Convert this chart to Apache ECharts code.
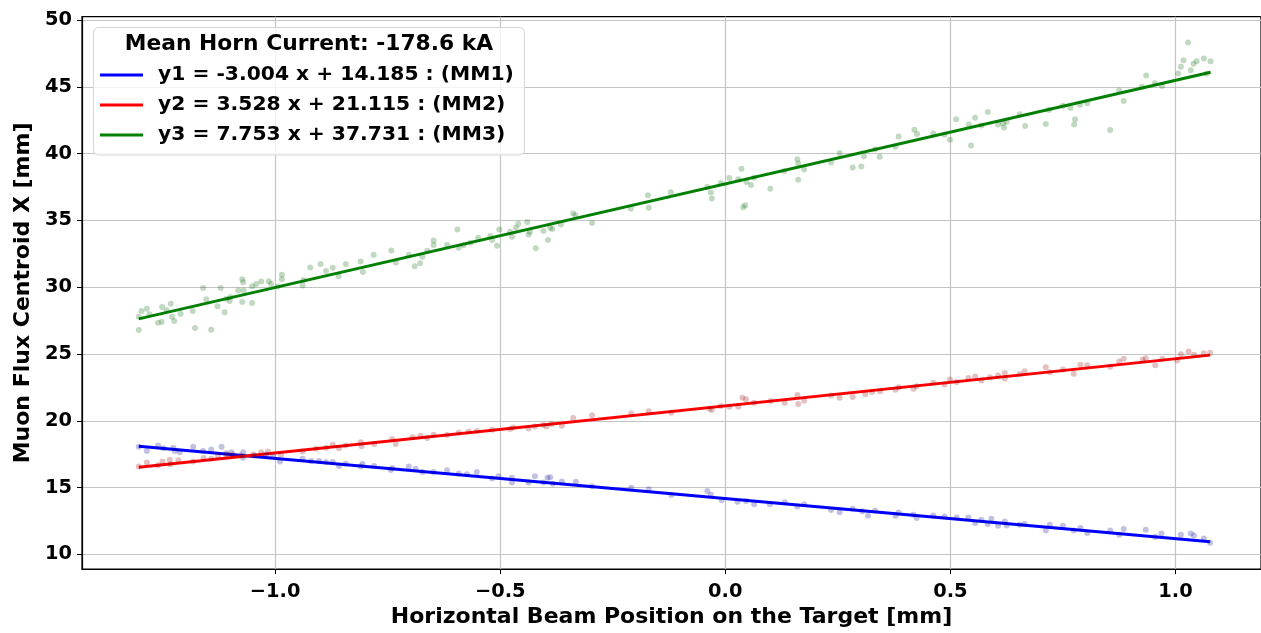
<!DOCTYPE html>
<html>
<head>
<meta charset="utf-8">
<title>Muon Flux Centroid vs Beam Position</title>
<script src="https://cdn.jsdelivr.net/npm/echarts@6/dist/echarts.min.js"></script>
<style>
  html, body { margin: 0; padding: 0; background: #ffffff; }
  #chart { width: 1261px; height: 633px; }
</style>
</head>
<body>
<div id="chart"></div>
<script>
// Horizontal beam position on target [mm] and muon-monitor centroid X [mm], one pair of arrays per monitor
const mm1Pos = [-1.303,-1.285,-1.260,-1.248,-1.226,-1.223,-1.212,-1.182,-1.160,-1.142,-1.119,-1.108,-1.097,-1.071,-1.071,-1.046,-1.020,-1.005,-0.989,-0.939,-0.920,-0.902,-0.887,-0.872,-0.858,-0.843,-0.810,-0.806,-0.780,-0.743,-0.740,-0.703,-0.688,-0.673,-0.648,-0.618,-0.592,-0.574,-0.552,-0.518,-0.504,-0.474,-0.474,-0.437,-0.423,-0.404,-0.395,-0.389,-0.383,-0.363,-0.332,-0.296,-0.209,-0.170,-0.120,-0.040,-0.032,-0.008,0.027,0.046,0.064,0.099,0.132,0.160,0.175,0.235,0.254,0.283,0.304,0.317,0.333,0.378,0.385,0.418,0.425,0.462,0.487,0.514,0.540,0.555,0.569,0.583,0.591,0.606,0.621,0.625,0.654,0.665,0.712,0.721,0.750,0.774,0.789,0.804,0.855,0.875,0.885,0.934,0.955,0.969,1.012,1.034,1.041,1.063,1.077];
const mm1Centroid = [18.05,17.73,18.15,17.95,17.98,17.73,17.65,18.05,17.73,17.85,18.05,17.58,17.65,17.65,17.24,17.41,17.41,17.33,16.96,17.16,16.99,16.99,16.91,16.91,16.61,16.79,16.57,16.76,16.61,16.32,16.47,16.57,16.42,16.17,16.17,16.30,16.05,16.00,16.17,15.68,15.85,15.39,15.73,15.39,15.85,15.39,15.73,15.78,15.28,15.46,15.43,15.11,14.99,14.87,14.44,14.74,14.47,14.07,13.95,14.00,13.76,13.76,13.90,13.58,13.76,13.33,13.16,13.41,13.23,12.89,13.26,12.89,13.13,12.96,12.72,12.91,12.84,12.76,12.76,12.35,12.59,12.27,12.67,12.15,12.47,12.17,12.22,12.27,11.78,12.22,12.15,11.78,11.98,11.61,11.78,11.48,11.90,11.85,11.31,11.56,11.48,11.56,11.41,11.19,10.87];

const mm2Pos = [-1.303,-1.285,-1.260,-1.250,-1.234,-1.232,-1.215,-1.182,-1.159,-1.142,-1.127,-1.108,-1.094,-1.075,-1.049,-1.031,-1.016,-0.987,-0.939,-0.909,-0.887,-0.872,-0.858,-0.843,-0.810,-0.808,-0.780,-0.740,-0.732,-0.695,-0.677,-0.662,-0.648,-0.618,-0.592,-0.570,-0.552,-0.518,-0.478,-0.471,-0.437,-0.423,-0.404,-0.397,-0.386,-0.363,-0.338,-0.296,-0.209,-0.170,-0.120,-0.035,-0.030,-0.010,0.009,0.029,0.038,0.046,0.064,0.101,0.132,0.160,0.162,0.175,0.235,0.254,0.283,0.311,0.326,0.344,0.378,0.385,0.418,0.425,0.462,0.487,0.499,0.514,0.540,0.555,0.569,0.588,0.606,0.621,0.621,0.654,0.665,0.712,0.721,0.750,0.774,0.789,0.804,0.855,0.875,0.885,0.927,0.934,0.955,0.971,1.004,1.012,1.029,1.041,1.063,1.077];
const mm2Centroid = [16.57,16.87,16.67,16.96,17.09,16.74,17.04,16.96,17.21,17.16,17.41,17.46,17.46,17.41,17.48,17.65,17.70,17.46,17.70,17.90,17.98,18.20,17.95,18.15,18.39,18.10,18.27,18.64,18.27,18.76,18.89,18.72,18.96,18.94,19.13,19.19,19.24,19.33,19.39,19.50,19.43,19.58,19.68,19.58,19.76,19.63,20.20,20.42,20.54,20.72,20.61,20.91,20.81,21.11,21.06,21.06,21.73,21.61,21.36,21.48,21.36,21.93,21.26,21.50,21.90,21.73,21.78,21.98,22.15,22.22,22.32,22.52,22.39,22.59,22.84,22.72,23.09,22.91,23.21,23.31,23.01,23.26,23.39,23.58,23.16,23.50,23.70,24.00,23.63,23.83,23.53,24.20,24.15,24.05,24.44,24.64,24.57,24.69,24.15,24.64,24.52,24.99,25.19,24.94,25.06,25.09];

const mm3Pos = [-1.303,-1.303,-1.297,-1.285,-1.279,-1.260,-1.252,-1.251,-1.241,-1.232,-1.229,-1.224,-1.210,-1.183,-1.178,-1.160,-1.153,-1.142,-1.128,-1.121,-1.112,-1.108,-1.101,-1.099,-1.082,-1.073,-1.071,-1.073,-1.070,-1.051,-1.051,-1.042,-1.031,-1.014,-1.009,-0.994,-0.985,-0.985,-0.939,-0.937,-0.922,-0.899,-0.887,-0.872,-0.859,-0.843,-0.810,-0.805,-0.781,-0.742,-0.732,-0.703,-0.690,-0.678,-0.673,-0.662,-0.648,-0.648,-0.618,-0.595,-0.592,-0.581,-0.566,-0.549,-0.522,-0.518,-0.507,-0.502,-0.478,-0.474,-0.465,-0.460,-0.440,-0.437,-0.434,-0.421,-0.404,-0.394,-0.389,-0.384,-0.365,-0.338,-0.333,-0.296,-0.210,-0.172,-0.170,-0.121,-0.040,-0.032,-0.030,-0.010,0.009,0.036,0.029,0.044,0.040,0.047,0.057,0.064,0.100,0.131,0.160,0.162,0.162,0.175,0.235,0.254,0.283,0.302,0.308,0.343,0.333,0.378,0.385,0.420,0.426,0.462,0.487,0.499,0.513,0.541,0.546,0.555,0.569,0.583,0.606,0.617,0.619,0.625,0.654,0.666,0.712,0.719,0.750,0.767,0.777,0.775,0.788,0.804,0.855,0.875,0.885,0.925,0.935,0.954,0.970,1.006,1.012,1.018,1.028,1.034,1.040,1.047,1.063,1.069,1.078];
const mm3Centroid = [27.78,26.79,28.22,28.39,27.98,27.33,27.41,28.52,28.27,28.76,27.78,27.46,28.02,28.22,26.94,29.93,29.09,26.81,28.57,29.93,28.13,29.13,28.96,29.26,29.76,30.59,30.37,28.89,29.76,28.81,30.07,30.24,30.42,30.44,30.24,30.05,30.94,30.59,30.13,30.54,31.48,31.73,31.21,31.46,30.81,31.73,31.93,31.13,32.42,32.74,31.85,32.42,31.56,31.80,32.27,32.72,33.50,33.16,33.16,34.32,32.96,33.13,33.33,33.70,33.83,33.53,33.11,34.32,34.15,33.78,34.44,34.74,34.87,33.95,34.15,32.91,34.20,33.53,34.44,34.35,34.69,35.53,35.39,34.81,35.87,36.89,35.95,37.11,37.50,37.09,36.64,37.80,38.17,38.87,38.07,36.13,35.98,37.87,37.65,38.20,37.36,38.69,39.58,39.26,38.05,38.81,39.33,40.05,38.96,39.04,39.80,39.76,40.32,40.52,41.28,41.78,41.46,41.50,41.41,41.04,42.57,42.17,40.61,42.69,42.10,43.11,42.17,42.27,41.95,42.39,42.94,42.07,42.22,43.26,43.58,43.41,42.57,42.17,43.65,43.76,41.76,44.72,43.93,45.01,45.85,45.26,45.06,46.00,46.50,46.99,48.32,46.24,46.72,46.91,47.11,45.98,46.91];

// Linear fits y = slope * x + intercept, as quoted in the legend
const fitSlopes = [-3.004, 3.528, 7.753];
const fitIntercepts = [14.185, 21.115, 37.731];
const monitorNames = ['MM1', 'MM2', 'MM3'];
const fitLabels = ['y1', 'y2', 'y3'];

// Axis tick values
const xTicks = [-1.0, -0.5, 0.0, 0.5, 1.0];
const yTicks = [10, 15, 20, 25, 30, 35, 40, 45, 50];

const legendTitle = 'Mean Horn Current: -178.6 kA';
const xTitle = 'Horizontal Beam Position on the Target [mm]';
const yTitle = 'Muon Flux Centroid X [mm]';

const FONT = '"DejaVu Sans", "Liberation Sans", sans-serif';
const lineColors = ['#0000ff', '#ff0000', '#008000'];
const dotColors = ['rgba(0,0,139,0.3)', 'rgba(139,0,0,0.3)', 'rgba(0,100,0,0.3)'];

const positions = [mm1Pos, mm2Pos, mm3Pos];
const centroids = [mm1Centroid, mm2Centroid, mm3Centroid];

function fitName(i) {
  const b = fitIntercepts[i];
  return fitLabels[i] + ' = ' + fitSlopes[i].toFixed(3) + ' x + ' + b.toFixed(3) + ' : (' + monitorNames[i] + ')';
}

const series = [];
for (let i = 0; i < 3; i++) {
  const xs = positions[i];
  const ys = centroids[i];
  const pts = xs.map((x, k) => [x, ys[k]]);
  series.push({
    type: 'scatter',
    name: monitorNames[i] + ' data',
    data: pts,
    symbol: 'circle',
    symbolSize: 6,
    itemStyle: { color: dotColors[i], borderWidth: 0 },
    silent: true,
    z: 2
  });
  // fit line spans the measured beam-position range
  const x0 = Math.min.apply(null, xs);
  const x1 = Math.max.apply(null, xs);
  const fy = x => fitSlopes[i] * x + fitIntercepts[i];
  series.push({
    type: 'line',
    name: fitName(i),
    data: [[x0, fy(x0)], [x1, fy(x1)]],
    showSymbol: false,
    symbol: 'none',
    lineStyle: { color: lineColors[i], width: 3 },
    itemStyle: { color: lineColors[i] },
    silent: true,
    animation: false,
    z: 2
  });
}

const fmtTick = v => {
  const s = Math.abs(v).toFixed(1);
  return v < 0 ? '\u2212' + s : s;
};

const chart = echarts.init(document.getElementById('chart'), null, { renderer: 'canvas' });
chart.setOption({
  animation: false,
  backgroundColor: '#ffffff',
  textStyle: { fontFamily: FONT },
  grid: {
    left: 82, right: -1, top: 16.7, bottom: 58.7, containLabel: false,
    show: true, borderColor: '#000', borderWidth: 1.2, backgroundColor: 'transparent'
  },
  xAxis: {
    type: 'value',
    min: -1.429,
    max: 1.190,
    name: xTitle,
    nameLocation: 'middle',
    nameGap: 34,
    nameTextStyle: { fontFamily: FONT, fontWeight: 'bold', fontSize: 22, color: '#000' },
    axisLine: { show: true, onZero: false, lineStyle: { color: '#000', width: 1.2 } },
    axisTick: { show: true, inside: false, length: 5, customValues: xTicks, lineStyle: { color: '#000', width: 1 } },
    axisLabel: { customValues: xTicks, formatter: fmtTick, margin: 13, fontFamily: FONT, fontWeight: 'bold', fontSize: 19.4, color: '#000' },
    splitLine: { show: true, lineStyle: { color: '#c4c4c4', width: 1.2 } }
  },
  yAxis: {
    type: 'value',
    min: 8.90,
    max: 50.245,
    name: yTitle,
    nameLocation: 'middle',
    nameGap: 46,
    nameRotate: 90,
    nameTextStyle: { fontFamily: FONT, fontWeight: 'bold', fontSize: 22, color: '#000' },
    axisLine: { show: true, onZero: false, lineStyle: { color: '#000', width: 1.2 } },
    axisTick: { show: true, inside: false, length: 5, customValues: yTicks, lineStyle: { color: '#000', width: 1 } },
    axisLabel: { customValues: yTicks, formatter: v => String(v), margin: 10, fontFamily: FONT, fontWeight: 'bold', fontSize: 19.4, color: '#000' },
    splitLine: { show: true, lineStyle: { color: '#c4c4c4', width: 1.2 } }
  },
  legend: {
    data: [0, 1, 2].map(i => ({ name: fitName(i), icon: 'rect' })),
    orient: 'vertical',
    left: 100,
    top: 65,
    padding: 0,
    itemWidth: 43,
    itemHeight: 3,
    itemGap: 10,
    selectedMode: false,
    textStyle: { fontFamily: FONT, fontWeight: 'bold', fontSize: 20.3, color: '#000', padding: [0, 0, 0, 10] },
    z: 20
  },
  graphic: [
    {
      type: 'rect',
      shape: { x: 93.5, y: 27.5, width: 431, height: 127.5, r: 5 },
      style: { fill: 'rgba(255,255,255,0.8)', stroke: '#d6d6d6', lineWidth: 1 },
      z: 15,
      silent: true
    },
    {
      type: 'text',
      x: 309,
      y: 44.5,
      style: {
        text: legendTitle,
        fontFamily: FONT,
        fontWeight: 'bold',
        fontSize: 21.8,
        fill: '#000',
        align: 'center',
        verticalAlign: 'middle'
      },
      z: 20,
      silent: true
    }
  ],
  series: series
});
</script>
</body>
</html>
